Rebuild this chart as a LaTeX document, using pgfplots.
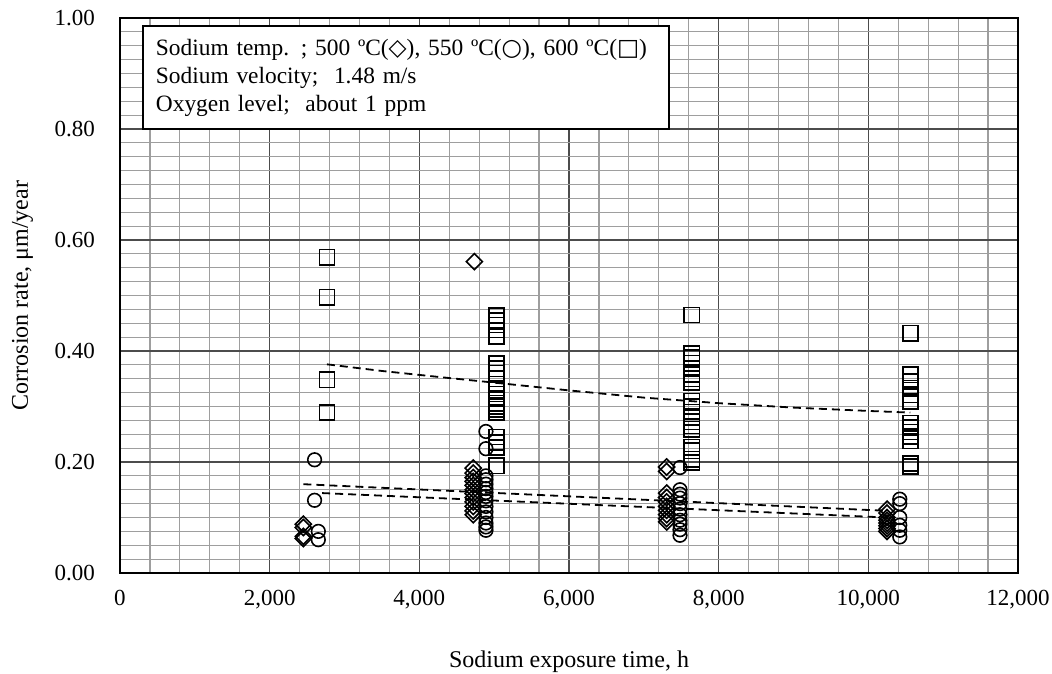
\documentclass[border=0pt]{standalone}
\usepackage{pgfplots}
\pgfplotsset{compat=1.18}
\usepackage{fontspec}
\setmainfont{Liberation Serif}
\newfontfamily\symfont{DejaVu Sans}
\begin{document}
\begin{tikzpicture}
\useasboundingbox (-60pt,-50pt) rectangle (466pt,286.5pt);
\begin{axis}[
 at={(0,0)}, anchor=south west, scale only axis,
 width=449pt, height=277.5pt,
 xmin=0, xmax=12000, ymin=0, ymax=1,
 xtick={0,2000,4000,6000,8000,10000,12000},
 ytick={0,0.2,0.4,0.6,0.8,1.0},
 minor x tick num=4, minor y tick num=7,
 grid=both,
 minor grid style={black!38, line width=0.6pt},
 major grid style={black!70, line width=0.8pt},
 axis line style={black, line width=1pt},
 major tick length=0pt, minor tick length=0pt,
 /pgf/number format/assume math mode=true,
 tick label style={font=\fontsize{11.5}{13}\selectfont},
 xticklabel style={/pgf/number format/1000 sep={,}, yshift=-5pt},
 yticklabel style={/pgf/number format/.cd, fixed, fixed zerofill, precision=2, /tikz/.cd, xshift=-9pt},
 scaled y ticks=false, scaled x ticks=false,
 xlabel={Sodium exposure time, h},
 ylabel={Corrosion rate, μm/year},
 label style={font=\fontsize{12}{14}\selectfont},
 xlabel style={yshift=-14pt},
 ylabel style={yshift=4pt},
 every axis plot/.append style={black},
]
% 500 C diamonds
\addplot[only marks, mark=square, mark size=2.85pt, mark options={rotate=45, line width=0.8pt, fill=none}] coordinates {
(2450,0.088) (2450,0.082) (2450,0.066) (2450,0.062)
(4735,0.561)
(4720,0.189) (4720,0.180) (4720,0.172) (4720,0.165) (4720,0.158) (4720,0.150) (4720,0.143) (4720,0.136) (4720,0.128) (4720,0.120) (4720,0.112) (4720,0.105)
(7305,0.191) (7305,0.183) (7305,0.144) (7305,0.136) (7305,0.128) (7305,0.120) (7305,0.113) (7305,0.105) (7305,0.098) (7305,0.092)
(10250,0.115) (10250,0.108) (10250,0.100) (10250,0.095) (10250,0.090) (10250,0.085) (10250,0.080) (10250,0.075)
};
% 550 C circles
\addplot[only marks, mark=o, mark size=3.4pt, mark options={line width=0.8pt}] coordinates {
(2600,0.204) (2600,0.131) (2650,0.075) (2650,0.060)
(4890,0.255) (4890,0.224) (4890,0.175) (4890,0.168) (4890,0.160) (4890,0.152) (4890,0.145) (4890,0.138) (4890,0.130) (4890,0.120) (4890,0.110) (4890,0.100) (4890,0.090) (4890,0.083) (4890,0.077)
(7483,0.190) (7483,0.150) (7483,0.142) (7483,0.135) (7483,0.125) (7483,0.115) (7483,0.105) (7483,0.095) (7483,0.088) (7483,0.078) (7483,0.068)
(10420,0.133) (10420,0.125) (10420,0.100) (10420,0.086) (10420,0.077) (10420,0.065)
};
% 600 C squares
\addplot[only marks, mark=square, mark size=3.8pt, mark options={line width=0.8pt}] coordinates {
(2765,0.569) (2765,0.497) (2765,0.348) (2765,0.289)
(5032,0.464) (5032,0.455) (5032,0.447) (5032,0.438) (5032,0.426) (5032,0.377) (5032,0.368) (5032,0.360) (5032,0.350) (5032,0.340) (5032,0.330) (5032,0.315) (5032,0.306) (5032,0.300) (5032,0.295) (5032,0.289) (5032,0.245) (5032,0.235) (5032,0.226) (5032,0.193)
(7640,0.465) (7640,0.395) (7640,0.388) (7640,0.378) (7640,0.368) (7640,0.358) (7640,0.350) (7640,0.343) (7640,0.310) (7640,0.300) (7640,0.290) (7640,0.280) (7640,0.272) (7640,0.265) (7640,0.259) (7640,0.227) (7640,0.220) (7640,0.205) (7640,0.199)
(10565,0.432) (10565,0.357) (10565,0.345) (10565,0.333) (10565,0.321) (10565,0.309) (10565,0.270) (10565,0.262) (10565,0.254) (10565,0.246) (10565,0.238) (10565,0.197) (10565,0.192)
};
% trend lines
\addplot[no marks, line width=0.9pt, dash pattern=on 4pt off 2.5pt] coordinates {
(2765,0.376) (3500,0.364) (4276,0.353) (5000,0.343) (6000,0.329) (7000,0.316) (8000,0.306) (9000,0.298) (10000,0.292) (10560,0.289)
};
\addplot[no marks, line width=0.9pt, dash pattern=on 4pt off 2.5pt] coordinates {
(2450,0.160) (10250,0.112)
};
\addplot[no marks, line width=0.9pt, dash pattern=on 4pt off 2.5pt] coordinates {
(2700,0.144) (10250,0.100)
};
\node[draw=black, line width=0.9pt, fill=white, anchor=north west, align=left,
 text width=250pt, inner xsep=6.5pt, inner ysep=5pt, minimum height=51.5pt,
 font=\fontsize{11.7}{14}\selectfont]
 at (rel axis cs:0.0245,0.987)
 {\mbox{Sodium temp. ; 500 ºC({\symfont ◇}), 550 ºC({\symfont ○}), 600 ºC({\symfont □})}\\
  Sodium velocity;\ \ 1.48 m/s\\
  Oxygen level;\ \ about 1 ppm};
\end{axis}
\end{tikzpicture}
\end{document}
